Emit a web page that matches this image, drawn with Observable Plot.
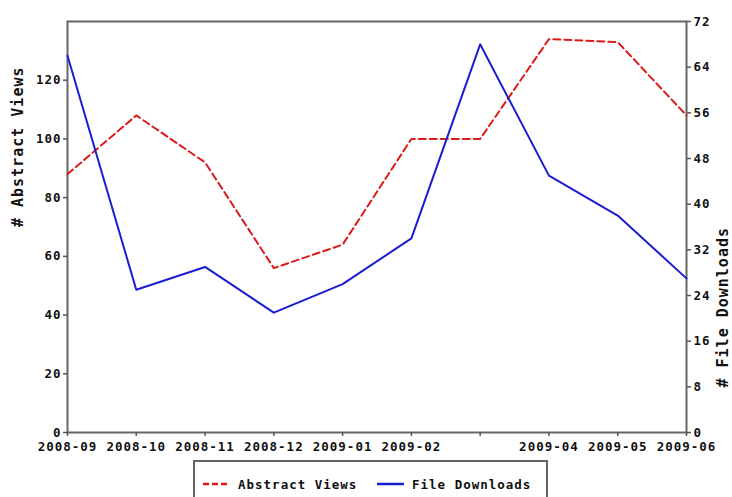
<!DOCTYPE html>
<html><head><meta charset="utf-8">
<script src="https://cdn.jsdelivr.net/npm/d3@7"></script>
<script src="https://cdn.jsdelivr.net/npm/@observablehq/plot@0.6"></script>
<style>
body{margin:0;background:#fff;font-family:"DejaVu Sans Mono",monospace;}
#chart svg{display:block;}
#legend{position:relative;margin-left:193px;margin-top:5px;width:355px;height:40px;border:2px solid #666;border-bottom:none;box-sizing:border-box;font-weight:bold;font-size:12.5px;letter-spacing:1px;color:#111;}
.item{position:absolute;top:14px;display:flex;align-items:center;height:16px;white-space:nowrap;}
.item svg{margin-right:8px;}
</style></head><body>
<div id="chart"></div>
<div id="legend"></div>
<script>
const months = ["2008-09","2008-10","2008-11","2008-12","2009-01","2009-02","2009-03","2009-04","2009-05","2009-06"];
const tickLabels = ["2008-09","2008-10","2008-11","2008-12","2009-01","2009-02","","2009-04","2009-05","2009-06"];
const abstractViews = [88,108,92,56,64,100,100,134,133,108];
const fileDownloads = [66,25,29,21,26,34,68,45,38,27];
const leftTicks = [0,20,40,60,80,100,120];
const rightTicks = [0,8,16,24,32,40,48,56,64,72];
const leftMax = 140, rightMax = 72;
const seriesNames = ["Abstract Views","File Downloads"];
const axisTitles = ["# Abstract Views","# File Downloads"];
const seriesColors = ["#dd1a1a","#1c1cd0"];
const k = leftMax / rightMax;
const rows = months.map((m,i)=>({month:m, views:abstractViews[i], downloads:fileDownloads[i]}));

const plot = Plot.plot({
  width:732, height:455, marginLeft:67, marginRight:46, marginTop:21, marginBottom:23,
  style:{fontFamily:"'DejaVu Sans Mono', monospace", fontSize:"12.5px", fontWeight:"bold", color:"#111", background:"#fff", letterSpacing:"1px", overflow:"visible"},
  x:{type:"point", domain:months, padding:0, round:false},
  y:{domain:[0,leftMax]},
  marks:[
    Plot.frame({stroke:"#666", strokeWidth:2}),
    Plot.axisX(months, {tickFormat:d=>tickLabels[months.indexOf(d)], tickSize:4, tickPadding:6, stroke:"#555", strokeWidth:1.5, label:null}),
    Plot.axisY(leftTicks, {anchor:"left", tickSize:4, tickPadding:2, stroke:"#555", strokeWidth:1.5, label:null}),
    Plot.axisY(rightTicks.map(v=>v*k), {anchor:"right", tickFormat:v=>String(Math.round(v/k)), tickSize:4, tickPadding:3, stroke:"#555", strokeWidth:1.5, label:null}),
    Plot.text([axisTitles[0]], {text:d=>d, frameAnchor:"left", dx:-49, rotate:-90, fontSize:15, fontWeight:"bold", fill:"#111"}),
    Plot.text([axisTitles[1]], {text:d=>d, frameAnchor:"right", dx:37, rotate:-90, fontSize:15, fontWeight:"bold", fill:"#111"}),
    Plot.line(rows, {x:"month", y:"views", stroke:seriesColors[0], strokeWidth:2, strokeDasharray:"7,4"}),
    Plot.line(rows, {x:"month", y:d=>d.downloads*k, stroke:seriesColors[1], strokeWidth:2})
  ]
});
document.getElementById("chart").appendChild(plot);

const legend = document.getElementById("legend");
const lefts = [8, 182];
seriesNames.forEach((name,i)=>{
  const item = document.createElement("div");
  item.className = "item";
  item.style.left = lefts[i] + "px";
  const dash = i === 0 ? 'stroke-dasharray="6,3"' : '';
  item.innerHTML = `<svg width="27" height="6"><line x1="0" y1="3" x2="27" y2="3" stroke="${seriesColors[i]}" stroke-width="2.5" ${dash}/></svg><span>${name}</span>`;
  legend.appendChild(item);
});
</script>
</body></html>
